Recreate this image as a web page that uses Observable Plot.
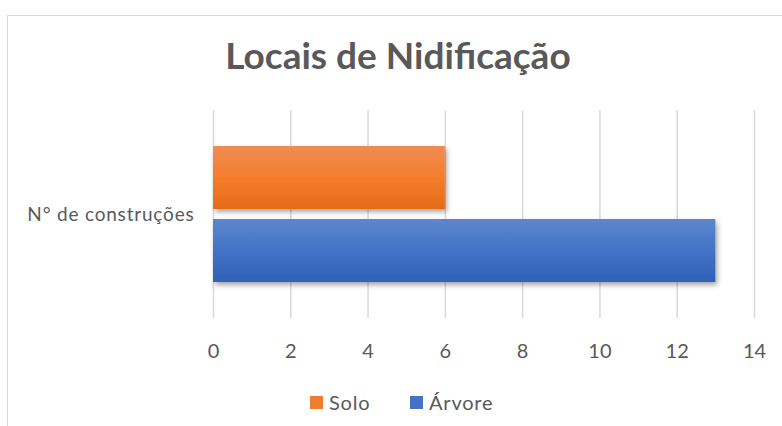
<!DOCTYPE html>
<html>
<head>
<meta charset="utf-8">
<script src="https://cdn.jsdelivr.net/npm/d3@7"></script>
<script src="https://cdn.jsdelivr.net/npm/@observablehq/plot@0.6"></script>
<style>
  html, body { margin: 0; padding: 0; background: #fff; }
  #wrap { position: relative; width: 782px; height: 426px; overflow: hidden; font-family: Lato, "Open Sans", sans-serif; }
  #frame { position: absolute; left: 7px; top: 15px; width: 800px; height: 450px; border-left: 1.5px solid #d9d9d9; border-top: 1.5px solid #d9d9d9; }
  #title { position: absolute; left: 0; top: 4px; width: 782px; height: 100px; display: flex; align-items: center; justify-content: center; padding-left: 14px; box-sizing: border-box; font-size: 37px; font-weight: bold; color: #595959; }
  #chart { position: absolute; left: 0; top: 100px; }
  #legend { position: absolute; left: 0; top: 380px; width: 782px; height: 46px; font-size: 20px; color: #595959; letter-spacing: 0.8px; }
  .lg { position: absolute; top: 10px; display: flex; align-items: center; }
  .sw { width: 13px; height: 13px; margin-right: 6px; }
</style>
</head>
<body>
<div id="wrap">
  <div id="frame"></div>
  <div id="title">Locais de Nidificação</div>
  <div id="chart"></div>
  <div id="legend"></div>
</div>
<script>
const title = "Locais de Nidificação";
const categories = ["N° de construções"];
const series = ["Solo", "Árvore"];
const values = [6, 13];
const xTicks = [0, 2, 4, 6, 8, 10, 12, 14];
const seriesColors = ["#ED7D31", "#4472C4"];

const data = series.map((s, i) => ({category: categories[0], series: s, value: values[i]}));

const plot = Plot.plot({
  width: 782,
  height: 280,
  marginTop: 10,
  marginBottom: 62,
  marginLeft: 213,
  marginRight: 28,
  style: {fontFamily: "Lato, 'Open Sans', sans-serif", fontSize: "20px", color: "#595959", background: "transparent"},
  x: {domain: [0, 14], ticks: xTicks, tickSize: 0, tickPadding: 25, label: null},
  y: {domain: series, paddingInner: 0.135, paddingOuter: 0.473, axis: null},
  fy: {domain: categories, padding: 0, axis: "left", tickSize: 0, tickPadding: 19, label: null},
  color: {domain: series, range: ["url(#gOrange)", "url(#gBlue)"]},
  facet: {data: data, y: "category"},
  marks: [
    Plot.gridX(xTicks, {stroke: "#d9d9d9", strokeOpacity: 1, strokeWidth: 1.5}),
    Plot.barX(data, {x: "value", y: "series", fill: "series", facet: "auto"})
  ]
});

const svg = d3.select(plot);
const defs = svg.insert("defs", ":first-child");
function grad(id, stops) {
  const g = defs.append("linearGradient").attr("id", id).attr("x1", 0).attr("y1", 0).attr("x2", 0).attr("y2", 1);
  stops.forEach(([o, c]) => g.append("stop").attr("offset", o).attr("stop-color", c));
}
grad("gOrange", [[0, "#F08C55"], [0.5, "#F47D2C"], [1, "#E46B18"]]);
grad("gBlue", [[0, "#5E86CE"], [0.5, "#4373C6"], [1, "#2F61B8"]]);
const f = defs.append("filter").attr("id", "shadow").attr("x", "-5%").attr("y", "-20%").attr("width", "115%").attr("height", "160%");
f.append("feDropShadow").attr("dx", 2).attr("dy", 3).attr("stdDeviation", 2.5).attr("flood-color", "#000").attr("flood-opacity", 0.35);
svg.selectAll("rect").filter(function() { return (this.getAttribute("fill") || "").startsWith("url"); }).attr("filter", "url(#shadow)");
svg.selectAll("g[aria-label='bar'] rect").attr("filter", "url(#shadow)");
svg.selectAll("text").filter(function() { return this.textContent === categories[0]; })
  .style("font-size", "19px").style("letter-spacing", "0.8px");

document.getElementById("chart").appendChild(plot);

const legend = document.getElementById("legend");
const legendX = [310, 410];
series.forEach((s, i) => {
  const item = document.createElement("div");
  item.className = "lg";
  item.style.left = legendX[i] + "px";
  const sw = document.createElement("div");
  sw.className = "sw";
  sw.style.background = seriesColors[i];
  const t = document.createElement("span");
  t.textContent = s;
  item.appendChild(sw);
  item.appendChild(t);
  legend.appendChild(item);
});
</script>
</body>
</html>
